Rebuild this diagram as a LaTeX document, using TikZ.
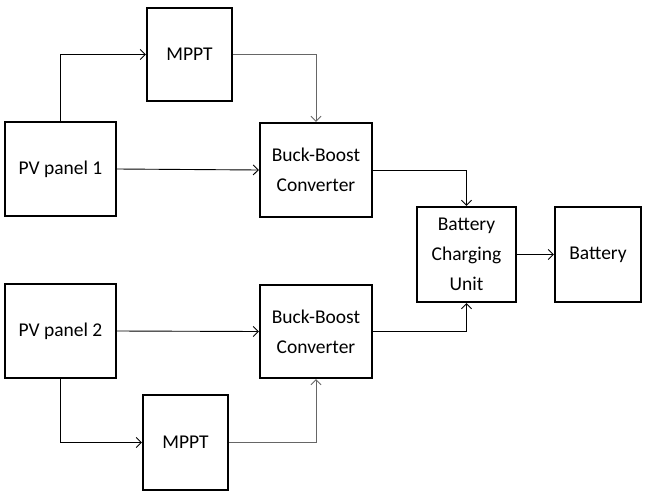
\documentclass[tikz,border=0pt]{standalone}
\usepackage{fontspec}
\setmainfont{Carlito}
\usetikzlibrary{arrows.meta}
\tikzset{
  blk/.style={draw=black, line width=2.4pt, inner sep=0pt, align=center,
    font=\fontsize{19.5}{30}\selectfont},
  conn/.style={draw=black, line width=0.9pt, -{Straight Barb[length=5pt,width=10pt,line width=0.9pt]}},
  gconn/.style={conn, draw=black!60},
}
\begin{document}
\begin{tikzpicture}[x=1pt,y=-1pt]
\useasboundingbox[fill=white] (0,0) rectangle (648,496);
\node[blk, minimum width=85pt, minimum height=93pt] (mppt1) at (189.5,54.5) {MPPT};
\node[blk, minimum width=111pt, minimum height=94pt] (pv1) at (60.5,169) {PV panel 1};
\node[blk, minimum width=112pt, minimum height=94pt] (bb1) at (316,170) {Buck-Boost\\Converter};
\node[blk, minimum width=99pt, minimum height=95pt] (bcu) at (466.5,254.5) {Battery\\Charging\\Unit};
\node[blk, minimum width=86pt, minimum height=95pt] (bat) at (598,254.5) {Battery};
\node[blk, minimum width=111pt, minimum height=94pt] (pv2) at (60.5,331) {PV panel 2};
\node[blk, minimum width=112pt, minimum height=93pt] (bb2) at (316,331.5) {Buck-Boost\\Converter};
\node[blk, minimum width=85pt, minimum height=95pt] (mppt2) at (185.5,442.5) {MPPT};

\draw[conn] (pv1.north) |- (mppt1.west);
\draw[gconn] (mppt1.east) -| (bb1.north);
\draw[conn] (pv1.east) -- (bb1.west);
\draw[conn] (bb1.east) -| (bcu.north);
\draw[conn] (bcu.east) -- (bat.west);
\draw[conn] (pv2.east) -- (bb2.west);
\draw[conn] (bb2.east) -| (bcu.south);
\draw[conn] (pv2.south) |- (mppt2.west);
\draw[gconn] (mppt2.east) -| (bb2.south);
\end{tikzpicture}
\end{document}
